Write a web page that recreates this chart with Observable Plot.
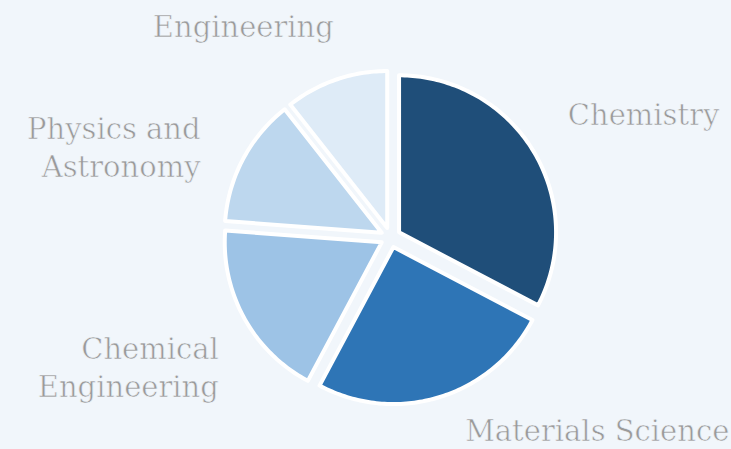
<!DOCTYPE html>
<html>
<head>
<meta charset="utf-8">
<script src="https://cdn.jsdelivr.net/npm/d3@7"></script>
<script src="https://cdn.jsdelivr.net/npm/@observablehq/plot@0.6"></script>
<style>
  html, body { margin: 0; padding: 0; background: #f1f6fb; }
  #chart { width: 731px; height: 449px; }
</style>
</head>
<body>
<div id="chart"></div>
<script>
// ---- data ----
const categories = ["Chemistry", "Materials Science", "Chemical Engineering", "Physics and Astronomy", "Engineering"];
const values = [32.7, 25.1, 18.4, 13.2, 10.6];
const labelLines = ["Chemistry", "Materials Science", "Chemical\nEngineering", "Physics and\nAstronomy", "Engineering"];
const colors = ["#1f4e79", "#2e75b6", "#9dc3e6", "#bdd7ee", "#deebf7"];

// ---- layout ----
const W = 731, H = 449;
const cx = 390, cy = 237, R = 157;      // pixels
const explode = 10 / R;                  // in radius units
const labelR = 213 / R;
const nudge = [[-5, -14], [12, -12], [15, 26], [-2, 9], [13, -11]]; // pixels

const pie = d3.pie().sort(null).value(d => d.value);
const arcs = pie(categories.map((c, i) => ({cat: c, value: values[i], label: labelLines[i]})));

const pts = [];
const labels = [];
arcs.forEach((a, i) => {
  const mid = (a.startAngle + a.endAngle) / 2;
  const ox = explode * Math.sin(mid), oy = explode * Math.cos(mid);
  pts.push({cat: a.data.cat, x: ox, y: oy});
  const n = Math.max(2, Math.ceil((a.endAngle - a.startAngle) / (Math.PI / 180)));
  for (let k = 0; k <= n; k++) {
    const t = a.startAngle + (a.endAngle - a.startAngle) * k / n;
    pts.push({cat: a.data.cat, x: ox + Math.sin(t), y: oy + Math.cos(t)});
  }
  const lx = labelR * Math.sin(mid) + nudge[i][0] / R;
  const ly = labelR * Math.cos(mid) - nudge[i][1] / R;
  const anchor = Math.abs(Math.sin(mid)) < 0.2 ? "middle" : (Math.sin(mid) > 0 ? "start" : "end");
  labels.push({text: a.data.label, x: lx, y: ly, anchor});
});

const textStyle = {
  fontFamily: "DejaVu Serif",
  fontSize: 29,
  fill: "#9a9a9a",
  stroke: "#f1f6fb",
  strokeWidth: 0.6,
  paintOrder: "normal",
  lineHeight: 1.3
};

const plot = Plot.plot({
  width: W,
  height: H,
  margin: 0,
  style: {background: "transparent", overflow: "visible"},
  x: {domain: [-cx / R, (W - cx) / R], axis: null},
  y: {domain: [(cy - H) / R, cy / R], axis: null},
  color: {domain: categories, range: colors},
  marks: [
    Plot.line(pts, {x: "x", y: "y", z: "cat", fill: "cat", stroke: "white", strokeWidth: 4, strokeLinejoin: "round", curve: "linear-closed"}),
    ...["start", "middle", "end"].map(anc =>
      Plot.text(labels.filter(d => d.anchor === anc), {x: "x", y: "y", text: "text", textAnchor: anc, lineAnchor: "middle", ...textStyle})
    )
  ]
});
document.getElementById("chart").appendChild(plot);
</script>
</body>
</html>
